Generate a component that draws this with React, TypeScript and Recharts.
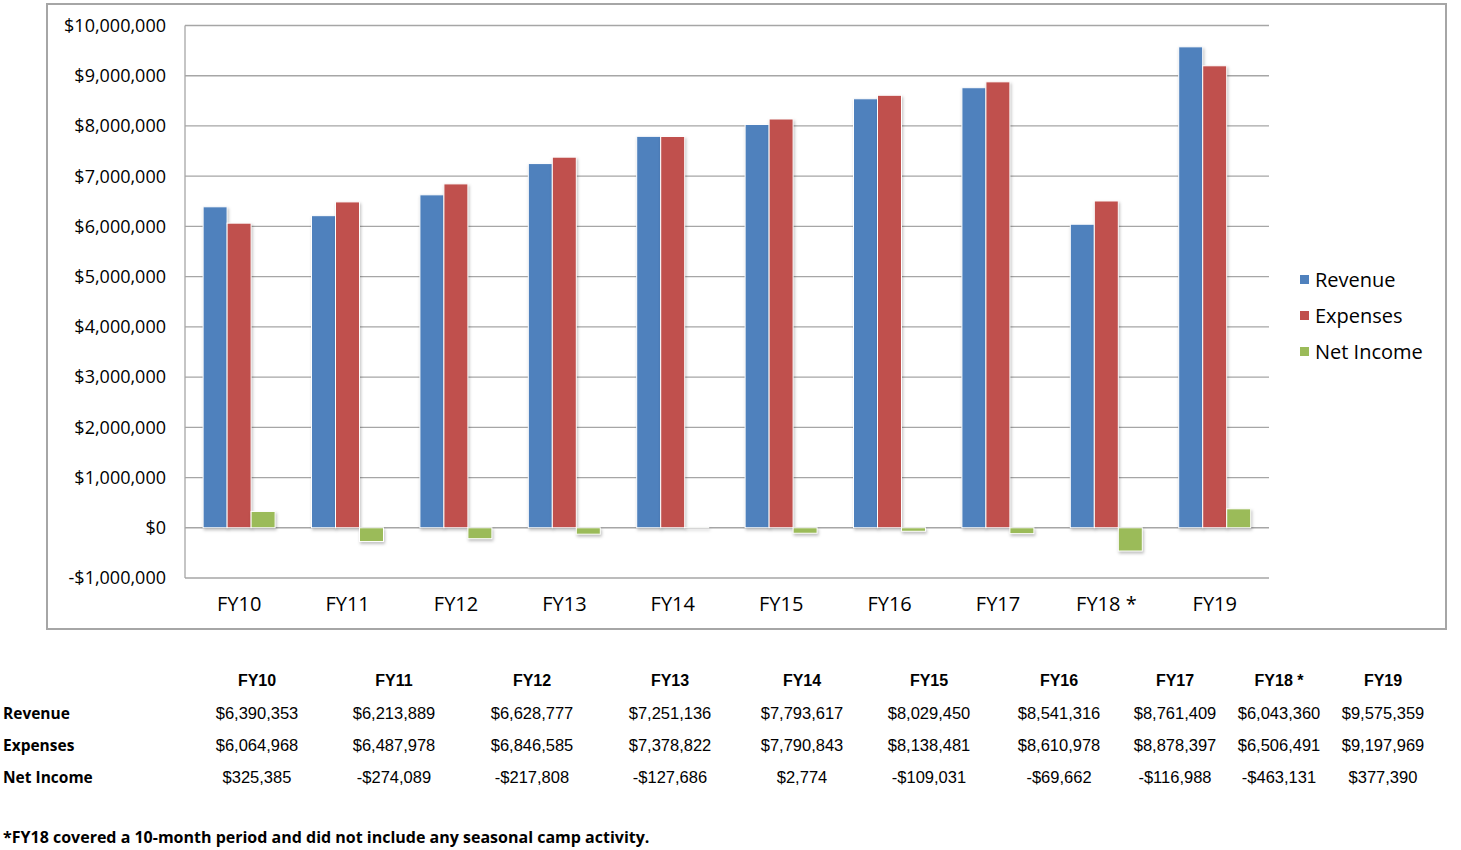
import React from 'react';
import { BarChart, Bar, XAxis, YAxis, CartesianGrid, Legend } from 'recharts';

const categories = ['FY10', 'FY11', 'FY12', 'FY13', 'FY14', 'FY15', 'FY16', 'FY17', 'FY18 *', 'FY19'];
const revenue = [6390353, 6213889, 6628777, 7251136, 7793617, 8029450, 8541316, 8761409, 6043360, 9575359];
const expenses = [6064968, 6487978, 6846585, 7378822, 7790843, 8138481, 8610978, 8878397, 6506491, 9197969];
const netIncome = [325385, -274089, -217808, -127686, 2774, -109031, -69662, -116988, -463131, 377390];
const yTicks = [-1000000, 0, 1000000, 2000000, 3000000, 4000000, 5000000, 6000000, 7000000, 8000000, 9000000, 10000000];
const tableCenters = [257, 394, 532, 670, 802, 929, 1059, 1175, 1279, 1383];
const footnote = '*FY18 covered a 10-month period and did not include any seasonal camp activity.';

const series = [
  { key: 'revenue', name: 'Revenue', color: '#4F81BD', values: revenue },
  { key: 'expenses', name: 'Expenses', color: '#C0504D', values: expenses },
  { key: 'netIncome', name: 'Net Income', color: '#9BBB59', values: netIncome },
];

const data = categories.map((c, i) => ({
  name: c,
  revenue: revenue[i],
  expenses: expenses[i],
  netIncome: netIncome[i],
}));

const fmt = (v: number) => (v < 0 ? '-$' : '$') + Math.abs(v).toLocaleString('en-US');

const chartFont = '"Open Sans", sans-serif';

const BarShape = (props: any) => {
  const { x, y, width, height, fill } = props;
  const h = Math.abs(height);
  const yy = height < 0 ? y + height : y;
  if (!h) return null;
  return (
    <rect
      x={x}
      y={yy}
      width={width}
      height={h}
      fill={fill}
      stroke="#ffffff"
      strokeWidth={1}
      style={{ filter: 'drop-shadow(1px 2px 1.5px rgba(0,0,0,0.25))' }}
    />
  );
};

const LegendContent = () => (
  <div style={{ fontFamily: chartFont, fontSize: 20, color: '#000' }}>
    {series.map((s) => (
      <div key={s.key} style={{ display: 'flex', alignItems: 'center', height: 36 }}>
        <span style={{ display: 'inline-block', width: 9, height: 9, background: s.color, marginRight: 6 }} />
        <span>{s.name}</span>
      </div>
    ))}
  </div>
);

export default function App() {
  return (
    <div style={{ position: 'absolute', left: 0, top: 0, width: 1461, height: 850, background: '#fff' }}>
      <div
        style={{
          position: 'absolute',
          left: 46,
          top: 3,
          width: 1397,
          height: 623,
          border: '2px solid #a6a6a6',
        }}
      >
        <BarChart
          width={1397}
          height={623}
          data={data}
          margin={{ top: 20.5, right: 176, bottom: 0, left: 7 }}
          barGap={0}
          barCategoryGap="16.7%"
        >
          <CartesianGrid vertical={false} stroke="#a6a6a6" strokeWidth={1.3} />
          <XAxis
            dataKey="name"
            axisLine={false}
            tickLine={false}
            tickSize={6}
            tickMargin={13}
            height={50}
            tick={{ fontFamily: chartFont, fontSize: 20, fill: '#000' }}
            interval={0}
          />
          <YAxis
            type="number"
            domain={[-1000000, 10000000]}
            ticks={yTicks}
            tickFormatter={fmt}
            width={130}
            axisLine={{ stroke: '#a6a6a6', strokeWidth: 1.3 }}
            tickLine={false}
            tickSize={6}
            tickMargin={13}
            tick={{ fontFamily: chartFont, fontSize: 18, fill: '#000' }}
            interval={0}
          />
          <Legend
            layout="horizontal"
            verticalAlign="middle"
            align="center"
            content={<LegendContent />}
            wrapperStyle={{ left: 1252, top: 256, width: 140 }}
          />
          {series.map((s) => (
            <Bar key={s.key} dataKey={s.key} name={s.name} fill={s.color} isAnimationActive={false} shape={<BarShape />} />
          ))}
        </BarChart>
      </div>

      <div style={{ position: 'absolute', left: 0, top: 665, width: 1461, height: 185 }}>
        {categories.map((c, i) => (
          <div
            key={'h' + c}
            style={{
              position: 'absolute',
              left: tableCenters[i] - 60,
              width: 120,
              top: 6,
              textAlign: 'center',
              fontFamily: '"Liberation Sans", Arial, sans-serif',
              fontWeight: 'bold',
              fontSize: 16,
              lineHeight: '20px',
            }}
          >
            {c}
          </div>
        ))}
        {series.map((s, r) => (
          <React.Fragment key={s.key}>
            <div
              style={{
                position: 'absolute',
                left: 3,
                top: 38 + r * 32,
                fontFamily: chartFont,
                fontWeight: 'bold',
                fontSize: 15.5,
                lineHeight: '20px',
              }}
            >
              {s.name}
            </div>
            {s.values.map((v, i) => (
              <div
                key={s.key + i}
                style={{
                  position: 'absolute',
                  left: tableCenters[i] - 65,
                  width: 130,
                  top: 38 + r * 32,
                  textAlign: 'center',
                  fontFamily: '"Liberation Sans", Arial, sans-serif',
                  fontSize: 16.5,
                  lineHeight: '20px',
                }}
              >
                {fmt(v)}
              </div>
            ))}
          </React.Fragment>
        ))}
        <div
          style={{
            position: 'absolute',
            left: 3,
            top: 162,
            fontFamily: chartFont,
            fontWeight: 'bold',
            fontSize: 16,
            lineHeight: '20px',
            whiteSpace: 'nowrap',
          }}
        >
          {footnote}
        </div>
      </div>
    </div>
  );
}
